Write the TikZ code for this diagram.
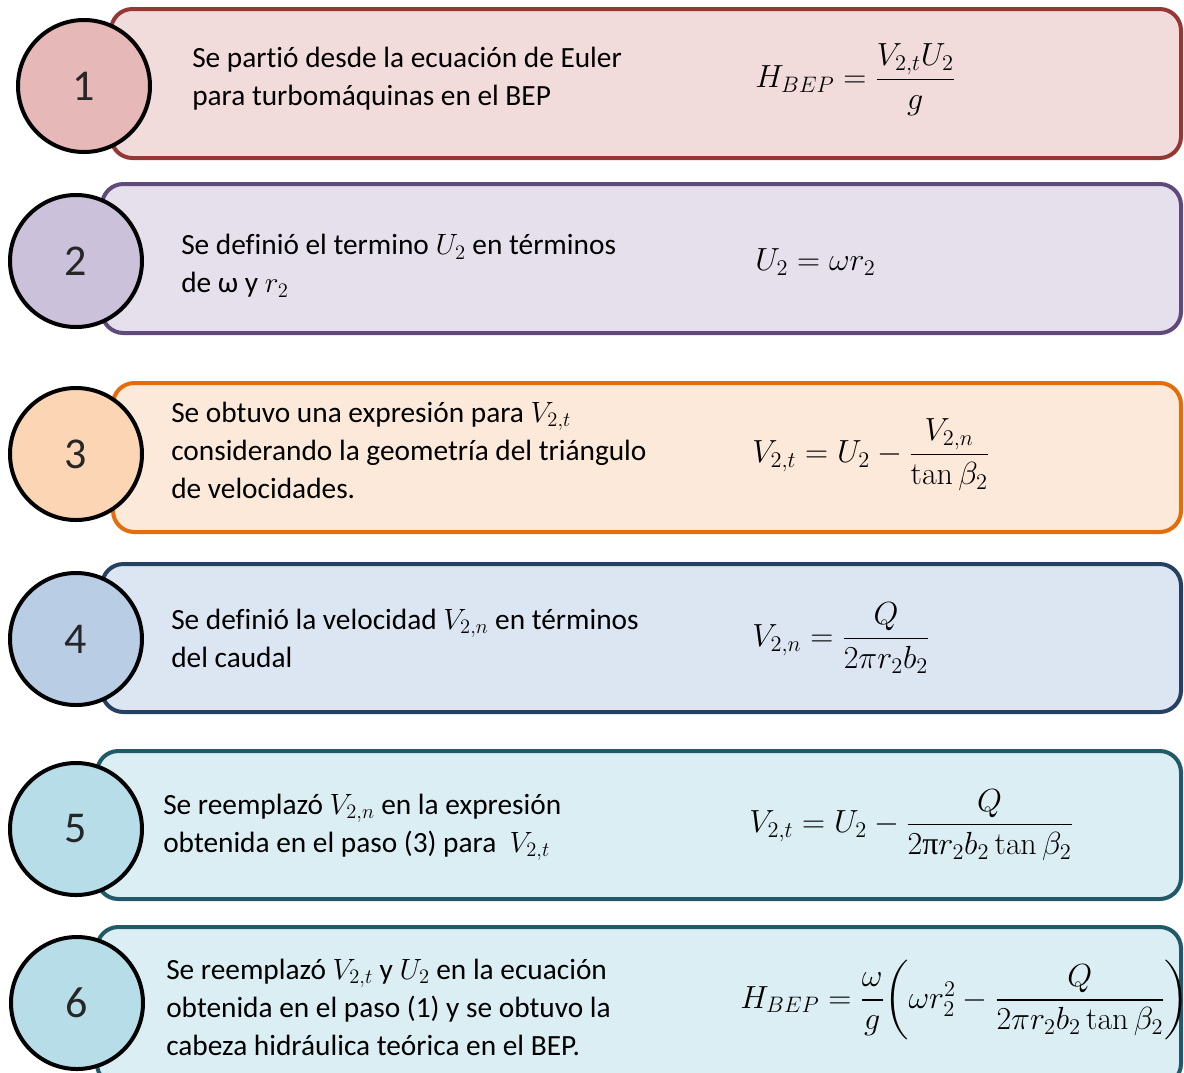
\RequirePackage{fix-cm}
\documentclass[tikz,border=0pt]{standalone}
\usepackage{amsmath}
\usepackage[no-math]{fontspec}
\setmainfont{Carlito}[Ligatures=NoCommon]
\newfontfamily\serifgreek{Liberation Serif}
\definecolor{f1}{HTML}{F2DCDB}\definecolor{s1}{HTML}{953735}\definecolor{c1}{HTML}{E6B9B8}
\definecolor{f2}{HTML}{E6E0EC}\definecolor{s2}{HTML}{604A7B}\definecolor{c2}{HTML}{CCC1DA}
\definecolor{f3}{HTML}{FDE9D9}\definecolor{s3}{HTML}{E46C0A}\definecolor{c3}{HTML}{FCD5B5}
\definecolor{f4}{HTML}{DCE6F2}\definecolor{s4}{HTML}{254061}\definecolor{c4}{HTML}{B9CDE5}
\definecolor{f5}{HTML}{DBEEF4}\definecolor{s5}{HTML}{215968}\definecolor{c5}{HTML}{B7DEE8}
\begin{document}
\begin{tikzpicture}[x=0.75pt,y=-0.75pt,
  box/.style={line width=3pt, rounded corners=16pt},
  num/.style={circle, draw=black, line width=3pt, minimum size=99pt, inner sep=0pt, font=\fontsize{33}{36}\selectfont, text=black!85},
  txt/.style={anchor=west, align=left, inner sep=0pt, font=\fontsize{22}{28.5}\selectfont},
  eq/.style={anchor=west, inner sep=0pt, font=\fontsize{24}{28}\selectfont}]
\useasboundingbox (0,0) rectangle (1184,1072);
\clip (0,0) rectangle (1184,1072);
% boxes
\draw[box, draw=s1, fill=f1] (111,9) rectangle (1181,158);
\draw[box, draw=s2, fill=f2] (102,184) rectangle (1181,333);
\draw[box, draw=s3, fill=f3] (113,383) rectangle (1181,532);
\draw[box, draw=s4, fill=f4] (102,564) rectangle (1181,712);
\draw[box, draw=s5, fill=f5] (97,751) rectangle (1181,899);
\draw[box, draw=s5, fill=f5] (97,927) rectangle (1181,1085);
% circles
\node[num, fill=c1] (n1) at (84,86) {1};
\node[num, fill=c2] (n2) at (76,261) {2};
\node[num, fill=c3] (n3) at (76,454) {3};
\node[num, fill=c4] (n4) at (76,639) {4};
\node[num, fill=c5] (n5) at (76,829) {5};
\node[num, fill=c5] (n6) at (77,1003) {6};
% texts
\node[txt] (t1) at (192,79) {Se partió desde la ecuación de Euler\\para turbomáquinas en el BEP};
\node[txt] (t2) at (181,266) {Se definió el termino $U_2$ en términos\\de ω y $r_2$};
\node[txt] (t3) at (171,450) {Se obtuvo una expresión para $V_{2,t}$\\considerando la geometría del triángulo\\de velocidades.};
\node[txt] (t4) at (171,638) {Se definió la velocidad $V_{2,n}$ en términos\\del caudal};
\node[txt] (t5) at (163,827) {Se reemplazó $V_{2,n}$ en la expresión\\obtenida en el paso (3) para~ $V_{2,t}$};
\node[txt] (t6) at (166,1007) {Se reemplazó $V_{2,t}$ y $U_2$ en la ecuación\\obtenida en el paso (1) y se obtuvo la\\cabeza hidráulica teórica en el BEP.};
% equations
\node[eq] (e1) at (755,80) {$H_{BEP} = \dfrac{V_{2,t}U_2}{g}$};
\node[eq] (e2) at (755,262) {$U_2 = \omega r_2$};
\node[eq] (e3) at (752,455) {$V_{2,t} = U_2 - \dfrac{V_{2,n}}{\tan\beta_2}$};
\node[eq] (e4) at (752,638) {$V_{2,n} = \dfrac{Q}{2\pi r_2 b_2}$};
\node[eq] (e5) at (749,825) {$V_{2,t} = U_2 - \dfrac{Q}{2\text{\serifgreek π}r_2b_2\tan\beta_2}$};
\node[eq] (e6) at (740,1000) {$H_{BEP} = \dfrac{\omega}{g}\!\left(\omega r_2^2 - \dfrac{Q}{2\pi r_2 b_2\tan\beta_2}\right)$};
\end{tikzpicture}
\end{document}
